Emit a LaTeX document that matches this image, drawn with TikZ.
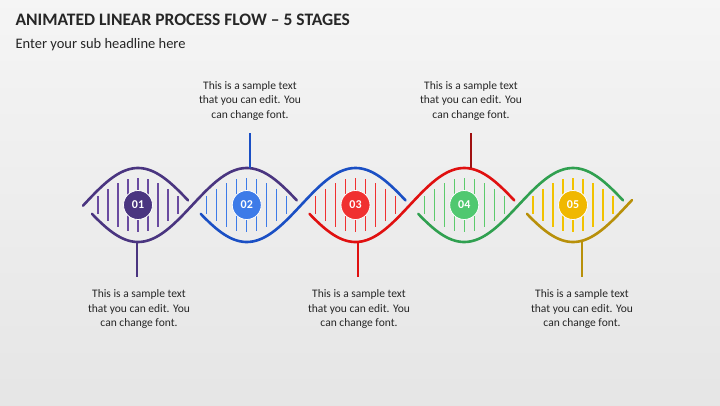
\documentclass[tikz,border=0pt]{standalone}
\usepackage{fontspec}
\setmainfont{Carlito}
\begin{document}
\begin{tikzpicture}[x=1pt,y=-1pt,
  wave/.style={line width=2.6pt,line cap=round},
  rung/.style={line width=1.1pt},
  callout/.style={line width=1.6pt},
  num/.style={circle,minimum size=29pt,inner sep=0pt,draw=white,line width=0.8pt,text=white,font=\bfseries\fontsize{12}{13}\selectfont},
  txt/.style={align=center,font=\fontsize{11.5}{14.5}\selectfont,text=black!85}]
\definecolor{wA}{HTML}{4A3580}\definecolor{wB}{HTML}{1A4FC4}\definecolor{wC}{HTML}{E01010}\definecolor{wD}{HTML}{30A050}\definecolor{wE}{HTML}{B8900A}
\definecolor{cA}{HTML}{4A3580}\definecolor{cB}{HTML}{3D7BE8}\definecolor{cC}{HTML}{F03030}\definecolor{cD}{HTML}{50C870}\definecolor{cE}{HTML}{F0B800}
\definecolor{rungA}{HTML}{6A4BA0}\definecolor{rungB}{HTML}{3D7BE8}\definecolor{rungC}{HTML}{F03030}\definecolor{rungD}{HTML}{5CCB6C}\definecolor{rungE}{HTML}{F2C200}
\definecolor{lA}{HTML}{4A3580}\definecolor{lB}{HTML}{1A4FC4}\definecolor{lC}{HTML}{E01010}\definecolor{lD}{HTML}{A01010}\definecolor{lE}{HTML}{B8900A}
\shade[top color=white!96!black,bottom color=white!90!black] (0,0) rectangle (720,405);
\useasboundingbox (0,0) rectangle (720,405);
\node[anchor=west,font=\bfseries\fontsize{17.5}{20}\selectfont,text=black!85] (title) at (12,20) {ANIMATED LINEAR PROCESS FLOW – 5 STAGES};
\node[anchor=west,font=\fontsize{14.5}{16}\selectfont,text=black!85] (sub) at (12,45) {Enter your sub headline here};
% stage 1 upper arc
\draw[wave,wA,domain=83:188,samples=50] plot (\x,{205-37*cos((\x-138)/108.75*180)});
% rungs
\foreach \i/\rc in {1/rungA,2/rungB,3/rungC,4/rungD,5/rungE}{
  \pgfmathsetmacro{\xc}{138+108.75*(\i-1)}
  \foreach \d in {-40,-30,-20,-10,0,10,20,30,40}{
    \pgfmathsetmacro{\hh}{31*cos(\d/108.75*180)-4}
    \draw[rung,draw=\rc] (\xc+\d,205-\hh) -- (\xc+\d,205+\hh);
  }
}
% waves
\foreach \i/\c in {1/wA,2/wB,3/wC,4/wD}{
  \pgfmathsetmacro{\xc}{138+108.75*(\i-1)}
  \pgfmathsetmacro{\xa}{\xc-46}
  \pgfmathsetmacro{\xb}{\xc+158.75}
  \draw[wave,\c,domain=\xa:\xb,samples=80] plot (\x,{205+37*cos((\x-\xc)/108.75*180)});
}
\draw[wave,wE,domain=527:632,samples=50] plot (\x,{205+37*cos((\x-573)/108.75*180)});
% circles
\node[num,fill=cA] (n1) at (138,205) {01};
\node[num,fill=cB] (n2) at (246.75,205) {02};
\node[num,fill=cC] (n3) at (355.5,205) {03};
\node[num,fill=cD] (n4) at (464.25,205) {04};
\node[num,fill=cE] (n5) at (573,205) {05};
% callouts
\coordinate (a1) at (137,242); \coordinate (b1) at (137,277);
\coordinate (a2) at (250,168); \coordinate (b2) at (250,133);
\coordinate (a3) at (358,242); \coordinate (b3) at (358,277);
\coordinate (a4) at (471,168); \coordinate (b4) at (471,133);
\coordinate (a5) at (582,242); \coordinate (b5) at (582,277);
\draw[callout,lA] (a1)--(b1); \draw[callout,lB] (a2)--(b2); \draw[callout,lC] (a3)--(b3);
\draw[callout,lD] (a4)--(b4); \draw[callout,lE] (a5)--(b5);
\node[txt,anchor=north] (t1) at (139,286) {This is a sample text\\that you can edit. You\\can change font.};
\node[txt,anchor=south] (t2) at (250,124) {This is a sample text\\that you can edit. You\\can change font.};
\node[txt,anchor=north] (t3) at (359,286) {This is a sample text\\that you can edit. You\\can change font.};
\node[txt,anchor=south] (t4) at (471,124) {This is a sample text\\that you can edit. You\\can change font.};
\node[txt,anchor=north] (t5) at (582,286) {This is a sample text\\that you can edit. You\\can change font.};
\end{tikzpicture}
\end{document}
